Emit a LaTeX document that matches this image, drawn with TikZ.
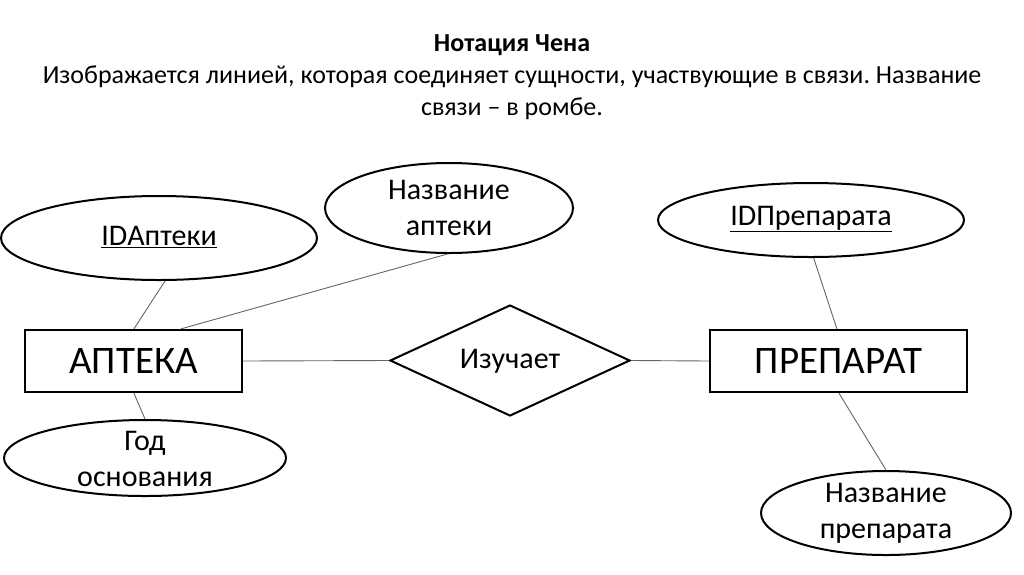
\documentclass[tikz,border=0pt]{standalone}
\usepackage{fontspec}
\setmainfont{Carlito}
\usetikzlibrary{shapes.geometric}
\frenchspacing
\tikzset{
  attr/.style={draw, ellipse, line width=2pt, inner sep=0pt},
  ent/.style={draw, rectangle, line width=2.2pt, inner sep=0pt, font=\fontsize{39}{44}\selectfont},
  rel/.style={draw, diamond, line width=2pt, inner sep=0pt},
  txt/.style={align=center, inner sep=0pt, font=\fontsize{30}{36}\selectfont},
  conn/.style={draw=black!60, line width=0.9pt}
}
\begin{document}
\begin{tikzpicture}[x=1pt, y=-1pt]
\useasboundingbox[fill=white] (0,0) rectangle (1024,574);
% title
\node[align=center, inner sep=0pt, font=\fontsize{26}{32}\selectfont] (title) at (512,77)
  {\textbf{Нотация Чена}\\Изображается линией, которая соединяет сущности, участвующие в связи. Название\\связи – в ромбе.};
% entities
\node[ent, minimum width=217, minimum height=62] (apteka) at (133.5,361) {АПТЕКА};
\node[ent, minimum width=257, minimum height=62] (prep) at (838.5,361) {ПРЕПАРАТ};
% relationship
\node[rel, minimum width=240, minimum height=111] (izuch) at (510,360.5) {};
\node[txt] (izuchtxt) at (510,361) {Изучает};
% attributes
\node[attr, minimum width=316, minimum height=84] (idapt) at (159,238) {};
\node[txt] (idapttxt) at (159,237) {\underline{IDАптеки}};
\node[attr, minimum width=248, minimum height=90] (nazapt) at (449,208) {};
\node[txt] (nazapttxt) at (449,208) {Название\\аптеки};
\node[attr, minimum width=282, minimum height=76] (god) at (145,458) {};
\node[txt] (godtxt) at (145,459) {Год\\основания};
\node[attr, minimum width=306, minimum height=74] (idprep) at (811,220) {};
\node[txt] (idpreptxt) at (811,219) {\underline{IDПрепарата}};
\node[attr, minimum width=250, minimum height=84] (nazprep) at (886,513) {};
\node[txt] (nazpreptxt) at (886,513) {Название\\препарата};
% connectors
\draw[conn] (idapt.-82) -- ([xshift=110]apteka.north west);
\draw[conn] (nazapt.-92) -- ([xshift=157]apteka.north west);
\draw[conn] ([xshift=110]apteka.south west) -- (god.north);
\draw[conn] (apteka.east) -- (izuch.west);
\draw[conn] (izuch.east) -- (prep.west);
\draw[conn] (idprep.-86) -- ([xshift=128]prep.north west);
\draw[conn] ([xshift=130]prep.south west) -- (nazprep.north);
\end{tikzpicture}
\end{document}
